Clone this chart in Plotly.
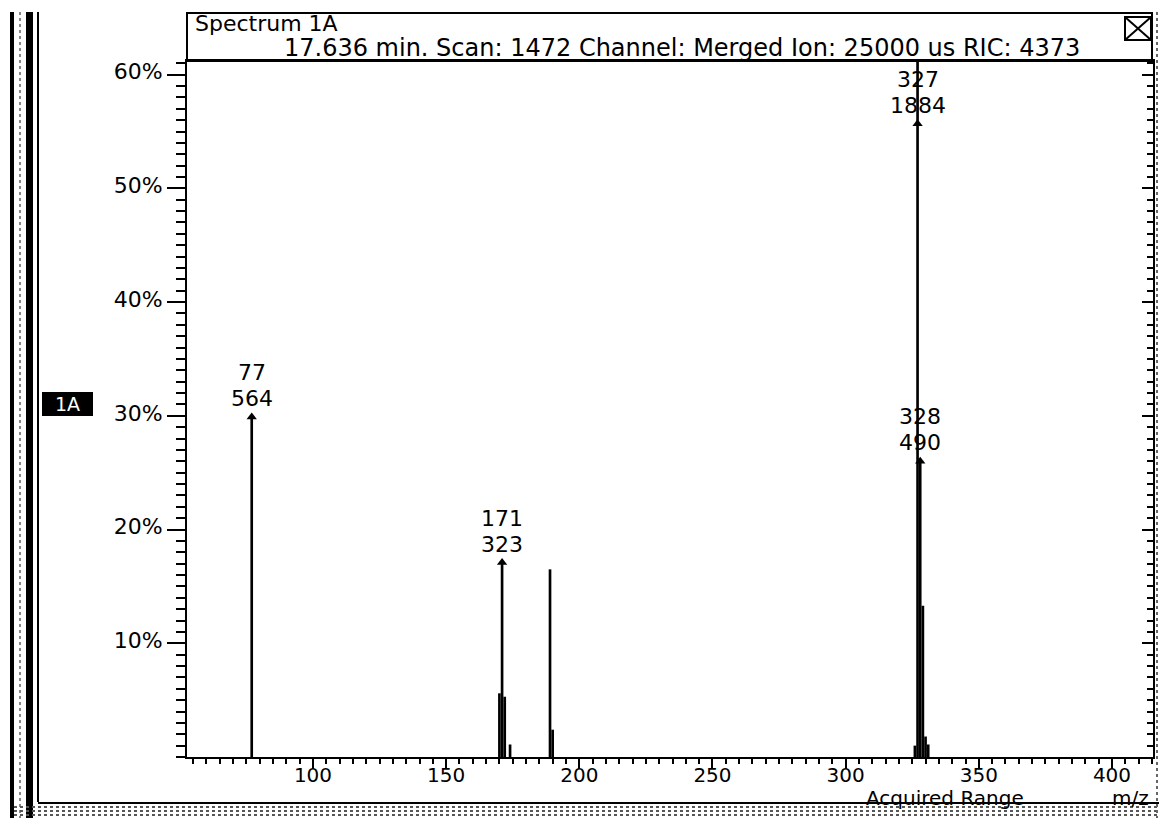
import plotly.graph_objects as go

# ---- data ----
peak_mz = [77, 170, 171, 172, 174, 189, 190, 326, 327, 328, 329, 330, 331]
peak_pct = [29.9, 5.6, 17.1, 5.3, 1.1, 16.5, 2.4, 1.0, 100.0, 26.0, 13.3, 1.8, 1.1]
label_mz = [77, 171, 327, 328]
label_counts = [564, 323, 1884, 490]
y_ticks = [10, 20, 30, 40, 50, 60]
y_ticktext = ["10%", "20%", "30%", "40%", "50%", "60%"]
x_ticks = [100, 150, 200, 250, 300, 350, 400]
header_title = "Spectrum 1A"
header_info = "17.636 min. Scan: 1472 Channel: Merged Ion: 25000 us RIC: 4373"

# ---- geometry (page pixels; the page body has an 8px margin) ----
OFF = 8
W, H = 1167 - OFF, 818 - OFF
L, R, T, B = 187, 1153, 61, 757          # plot area in page pixels
XR = [52.7, 415.4]
YR = [0, 61.2]
FONT = "DejaVu Sans"


def px(x):
    return (x - L) / (R - L)


def py(y):
    return (B - y) / (B - T)


fig = go.Figure()
fig.add_trace(go.Bar(x=peak_mz, y=peak_pct, width=1.0,
                     marker=dict(color="black", line=dict(width=0)),
                     hoverinfo="x+y"))

cap = YR[1] * 0.91
mk_y = [min(peak_pct[peak_mz.index(m)], cap) for m in label_mz]
fig.add_trace(go.Scatter(x=label_mz, y=mk_y, mode="markers",
                         marker=dict(symbol="triangle-up", size=9, color="black"),
                         cliponaxis=False))
# invisible trace to carry the right-hand tick axis
fig.add_trace(go.Scatter(x=[XR[0]], y=[YR[0]], yaxis="y2", mode="markers",
                         marker=dict(opacity=0), hoverinfo="skip"))

for m, c, yv in zip(label_mz, label_counts, mk_y):
    fig.add_annotation(x=m, y=yv, text=f"{c}", showarrow=False,
                       yanchor="bottom", yshift=4,
                       font=dict(size=22, family=FONT, color="black"))
    fig.add_annotation(x=m, y=yv, text=f"{m}", showarrow=False,
                       yanchor="bottom", yshift=30,
                       font=dict(size=22, family=FONT, color="black"))

shapes = []
# header box
shapes.append(dict(type="rect", xref="paper", yref="paper",
                   x0=px(187), x1=px(1152), y0=py(13), y1=py(61),
                   line=dict(color="black", width=2)))
# close box with X
shapes.append(dict(type="rect", xref="paper", yref="paper",
                   x0=px(1125), x1=px(1151), y0=py(17), y1=py(40),
                   line=dict(color="black", width=2)))
shapes.append(dict(type="line", xref="paper", yref="paper",
                   x0=px(1125), x1=px(1151), y0=py(17), y1=py(40),
                   line=dict(color="black", width=2)))
shapes.append(dict(type="line", xref="paper", yref="paper",
                   x0=px(1125), x1=px(1151), y0=py(40), y1=py(17),
                   line=dict(color="black", width=2)))
# left window frame
shapes.append(dict(type="rect", xref="paper", yref="paper",
                   x0=px(10), x1=px(14), y0=py(12), y1=py(818),
                   fillcolor="black", line=dict(width=0)))
shapes.append(dict(type="rect", xref="paper", yref="paper",
                   x0=px(26), x1=px(33), y0=py(12), y1=py(818),
                   fillcolor="black", line=dict(width=0)))
shapes.append(dict(type="line", xref="paper", yref="paper",
                   x0=px(38), x1=px(38), y0=py(12), y1=py(802),
                   line=dict(color="black", width=2)))
shapes.append(dict(type="line", xref="paper", yref="paper",
                   x0=px(20), x1=px(20), y0=py(12), y1=py(818),
                   line=dict(color="#888", width=2, dash="dot")))
# bottom frame
shapes.append(dict(type="line", xref="paper", yref="paper",
                   x0=px(38), x1=px(1167), y0=py(803), y1=py(803),
                   line=dict(color="black", width=2)))
for yy in [807, 811, 815]:
    shapes.append(dict(type="line", xref="paper", yref="paper",
                       x0=px(14), x1=px(1167), y0=py(yy), y1=py(yy),
                       line=dict(color="#555", width=2, dash="dot")))
# right frame
for xx in [1157, 1161, 1165]:
    shapes.append(dict(type="line", xref="paper", yref="paper",
                       x0=px(xx), x1=px(xx), y0=py(12), y1=py(818),
                       line=dict(color="#666", width=2, dash="dot")))
# 1A tag
shapes.append(dict(type="rect", xref="paper", yref="paper",
                   x0=px(42), x1=px(93), y0=py(392), y1=py(416),
                   fillcolor="black", line=dict(width=0)))

annots = [
    dict(x=px(193), y=py(23), text=header_title, xanchor="left", font_size=22),
    dict(x=px(682), y=py(48), text=header_info, xanchor="center", font_size=24),
    dict(x=px(945), y=py(798), text="Acquired Range", xanchor="center", font_size=20),
    dict(x=px(1151), y=py(798), text="m/z", xanchor="right", font_size=20),
]
for a in annots:
    fig.add_annotation(x=a["x"], y=a["y"], xref="paper", yref="paper",
                       text=a["text"], showarrow=False, xanchor=a["xanchor"],
                       yanchor="middle",
                       font=dict(size=a["font_size"], family=FONT, color="black"))
fig.add_annotation(x=px(67.5), y=py(404), xref="paper", yref="paper", text="1A",
                   showarrow=False, xanchor="center", yanchor="middle",
                   font=dict(size=19, family=FONT, color="white"))

fig.update_layout(
    width=W, height=H,
    margin=dict(l=L - OFF, r=W - (R - OFF), t=T - OFF, b=H - (B - OFF), pad=0),
    paper_bgcolor="white", plot_bgcolor="white",
    showlegend=False,
    shapes=shapes,
    font=dict(family=FONT, color="black", size=22),
    xaxis=dict(range=XR, showline=True, linecolor="black", linewidth=2, mirror=True,
               ticks="outside", tickvals=x_ticks, ticklen=10, tickwidth=2,
               tickcolor="black", showgrid=False, zeroline=False,
               ticklabelstandoff=-11,
               tickfont=dict(size=20, family=FONT),
               minor=dict(tick0=0, dtick=5, ticks="outside", ticklen=5,
                          tickwidth=2, tickcolor="black", showgrid=False)),
    yaxis=dict(range=YR, showline=True, linecolor="black", linewidth=2, mirror=True,
               ticks="outside", tickvals=y_ticks, ticktext=y_ticktext,
               ticklen=18, tickwidth=2, tickcolor="black",
               showgrid=False, zeroline=False, ticklabelshift=-3,
               tickfont=dict(size=22, family=FONT),
               minor=dict(tick0=0, dtick=1, ticks="outside", ticklen=9,
                          tickwidth=2, tickcolor="black", showgrid=False)),
    yaxis2=dict(range=YR, overlaying="y", side="right", showline=False,
                ticks="inside", tickvals=y_ticks, ticklen=11, tickwidth=2,
                tickcolor="black", showticklabels=False, showgrid=False,
                zeroline=False,
                minor=dict(tick0=0, dtick=1, ticks="inside", ticklen=6,
                           tickwidth=2, tickcolor="black", showgrid=False)),
)

fig.write_html("out.html")
